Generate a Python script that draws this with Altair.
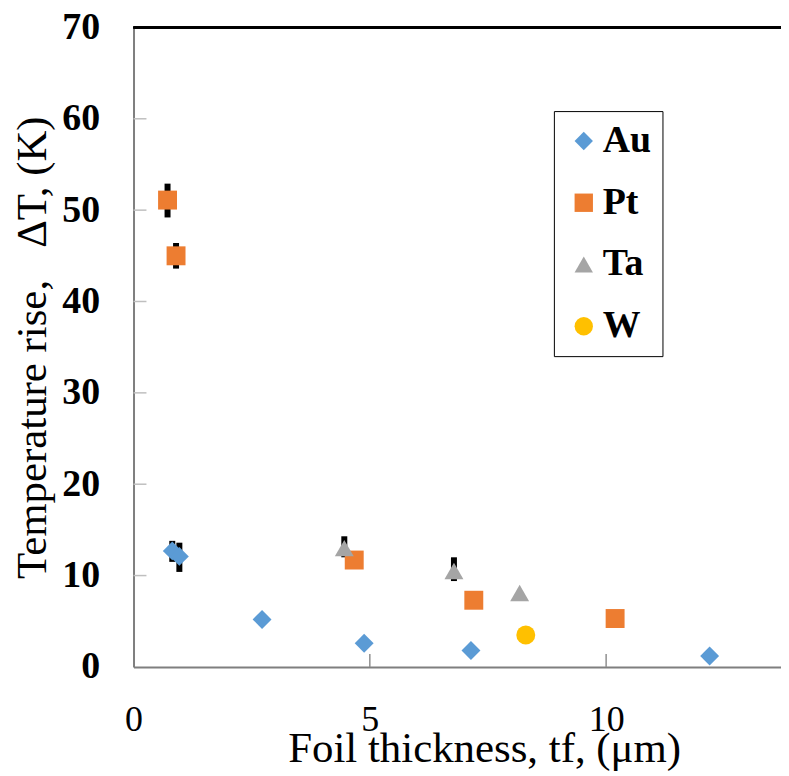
import altair as alt
import pandas as pd

# data
metals = ["Au", "Au", "Au", "Au", "Au", "Au",
          "Pt", "Pt", "Pt", "Pt", "Pt",
          "Ta", "Ta", "Ta",
          "W"]
thickness = [0.82, 0.97, 2.72, 4.88, 7.14, 12.19,
             0.72, 0.90, 4.67, 7.20, 10.19,
             4.46, 6.78, 8.17,
             8.30]
temp_rise = [12.7, 12.1, 5.2, 2.6, 1.8, 1.2,
             51.1, 45.0, 11.7, 7.3, 5.3,
             13.0, 10.5, 8.1,
             3.5]

# error bars (x, low, high)
err_x = [0.82, 0.97, 0.72, 0.90, 4.46, 6.78]
err_lo = [11.5, 10.4, 49.2, 43.6, 12.0, 9.4]
err_hi = [13.8, 13.6, 52.9, 46.4, 14.3, 12.0]

y_ticks = [10, 20, 30, 40, 50, 60, 70]
x_ticks = [5, 10]

series = ["Au", "Pt", "Ta", "W"]
colors = ["#5B9BD5", "#ED7D31", "#A5A5A5", "#FFC000"]
shapes = ["diamond", "square", "triangle-up", "circle"]

W, H = 650, 642
FONT = "Liberation Serif"
X_TITLE = "Foil thickness, tf, (μm)"
Y_TITLE = "Temperature rise, \u00a0\u00a0ΔT, (K)"

df = pd.DataFrame({"metal": metals, "x": thickness, "y": temp_rise})
df_err = pd.DataFrame({"x": err_x, "lo": err_lo, "hi": err_hi})
df_yt = pd.DataFrame({"y": y_ticks})
df_xt = pd.DataFrame({"x": x_ticks})

xscale = alt.Scale(domain=[0, 13.7], nice=False, zero=False)
yscale = alt.Scale(domain=[0, 70], nice=False)

x_axis = alt.Axis(values=[0, 5, 10], ticks=False, grid=False, labelFlush=False,
                  domainColor="#7f7f7f", domainWidth=2,
                  labelFont=FONT, labelFontSize=36, labelColor="black",
                  labelPadding=36, titleFont=FONT, titleFontSize=43,
                  titleFontWeight="normal", titleColor="black",
                  titlePadding=-10, titleX=352, titleAlign="center")
y_axis = alt.Axis(values=[0, 10, 20, 30, 40, 50, 60, 70], ticks=False, grid=False,
                  labelFlush=False,
                  domainColor="#7f7f7f", domainWidth=2,
                  labelFont=FONT, labelFontSize=38, labelFontWeight="bold",
                  labelColor="black", labelPadding=34,
                  titleFont=FONT, titleFontSize=43, titleFontWeight="normal",
                  titleColor="black", titlePadding=7)

X = lambda f: alt.X(f, scale=xscale, title=X_TITLE, axis=x_axis)
Y = lambda f: alt.Y(f, scale=yscale, title=Y_TITLE, axis=y_axis)

err = alt.Chart(df_err).mark_rule(color="black", strokeWidth=6).encode(
    x=X("x:Q"), y=Y("lo:Q"), y2="hi:Q",
)

points = alt.Chart(df).mark_point(filled=True, opacity=1, size=361, strokeWidth=0).encode(
    x=X("x:Q"), y=Y("y:Q"),
    color=alt.Color("metal:N", scale=alt.Scale(domain=series, range=colors),
                    legend=alt.Legend(title=None, orient="none", legendX=422, legendY=84,
                                      labelFont=FONT, labelFontSize=38, labelFontWeight="bold",
                                      labelColor="black", symbolSize=340, rowPadding=24,
                                      padding=11, strokeColor="black", labelOffset=0,
                                      symbolStrokeWidth=0)),
    shape=alt.Shape("metal:N", scale=alt.Scale(domain=series, range=shapes)),
)

ytick = alt.Chart(df_yt).mark_rule(color="#bfbfbf", strokeWidth=1.5).encode(
    y=Y("y:Q"), x=alt.value(0), x2=alt.value(13),
)
xtick = alt.Chart(df_xt).mark_rule(color="#8f8f8f", strokeWidth=1.5).encode(
    x=X("x:Q"), y=alt.value(H), y2=alt.value(H - 13),
)
top = alt.Chart(df_yt).mark_rule(color="black", strokeWidth=2).encode(
    x=alt.value(0), x2=alt.value(W), y=alt.value(0),
)

chart = alt.layer(err, points, ytick, xtick, top).properties(
    width=W, height=H,
    autosize=alt.AutoSizeParams(type="none"),
    padding={"left": 126, "top": 18, "right": 0, "bottom": 108},
).configure_view(stroke=None)

chart.save("out.html", embed_options={"renderer": "svg", "actions": False})
